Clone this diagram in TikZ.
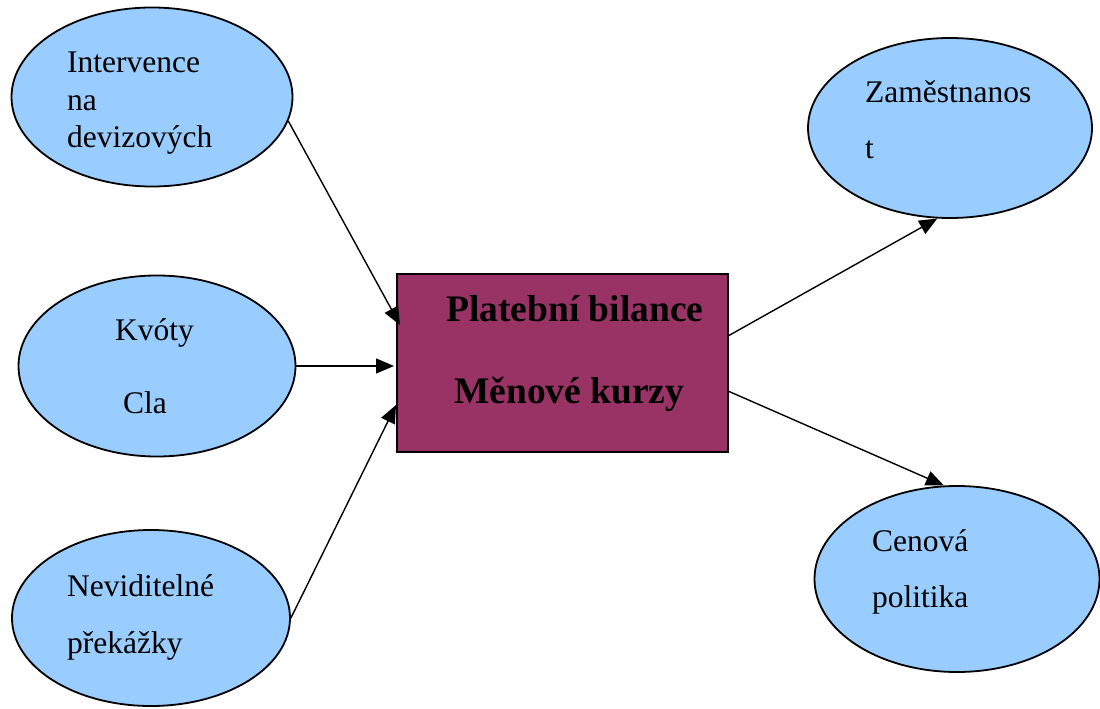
\documentclass[tikz,border=0pt]{standalone}
\usepackage{fontspec}
\setmainfont{Liberation Serif}
\usepackage{tikz}
\usetikzlibrary{arrows.meta,shapes.geometric}
\definecolor{ovalblue}{HTML}{99CCFF}
\definecolor{plum}{HTML}{993366}

\begin{document}
\begin{tikzpicture}[x=1pt,y=-1pt,
   oval/.style={ellipse, draw, line width=1.8pt, fill=ovalblue, inner sep=0pt},
   txt/.style={anchor=base west, inner sep=0pt, font=\fontsize{31.5}{37}\selectfont},
   boldtxt/.style={anchor=base west, inner sep=0pt, font=\fontsize{37.5}{44}\selectfont\bfseries},
   arr/.style={-{Triangle[length=18pt,width=15pt]}, line width=1.4pt}]
   % page
   \useasboundingbox (0,0) rectangle (1100,709);

   % ovals
   \node[oval, minimum width=281pt, minimum height=179pt] (int) at (152,97) {};
   \node[oval, minimum width=277pt, minimum height=181pt] (kvo) at (157,366) {};
   \node[oval, minimum width=278pt, minimum height=176pt] (nev) at (151,618) {};
   \node[oval, minimum width=284pt, minimum height=180pt] (zam) at (950,128) {};
   \node[oval, minimum width=285pt, minimum height=186pt] (cen) at (957,579) {};

   % box
   \node[draw, line width=1.8pt, fill=plum, minimum width=331pt, minimum height=178pt] (box) at (562.5,363) {};

   % texts
   \node[txt] (int1) at (67,72) {Intervence};
   \node[txt] (int2) at (67,110) {na};
   \node[txt] (int3) at (67,147) {devizových};
   \node[txt] (kvo1) at (115,340) {Kvóty};
   \node[txt] (kvo2) at (123,413) {Cla};
   \node[txt] (nev1) at (67,596) {Neviditelné};
   \node[txt] (nev2) at (67,653) {překážky};
   \node[txt] (zam1) at (865,102) {Zaměstnanos};
   \node[txt] (zam2) at (865,158) {t};
   \node[txt] (cen1) at (872,551) {Cenová};
   \node[txt] (cen2) at (872,607) {politika};
   \node[boldtxt] (box1) at (446,321) {Platební bilance};
   \node[boldtxt] (box2) at (454,403) {Měnové kurzy};

   % arrow ends on the box
   \coordinate (in1) at (400,325);
   \coordinate (in2) at (394,366);
   \coordinate (in3) at (396,405);
   \coordinate (out1) at (728,336);
   \coordinate (out2) at (728,391);

   % arrows
   \draw[arr] (int.-10) -- (in1);
   \draw[arr] (kvo.east) -- (in2);
   \draw[arr] (nev.east) -- (in3);
   \draw[arr] (out1) -- (zam.-98);
   \draw[arr] (out2) -- (cen.98);
\end{tikzpicture}
\end{document}
